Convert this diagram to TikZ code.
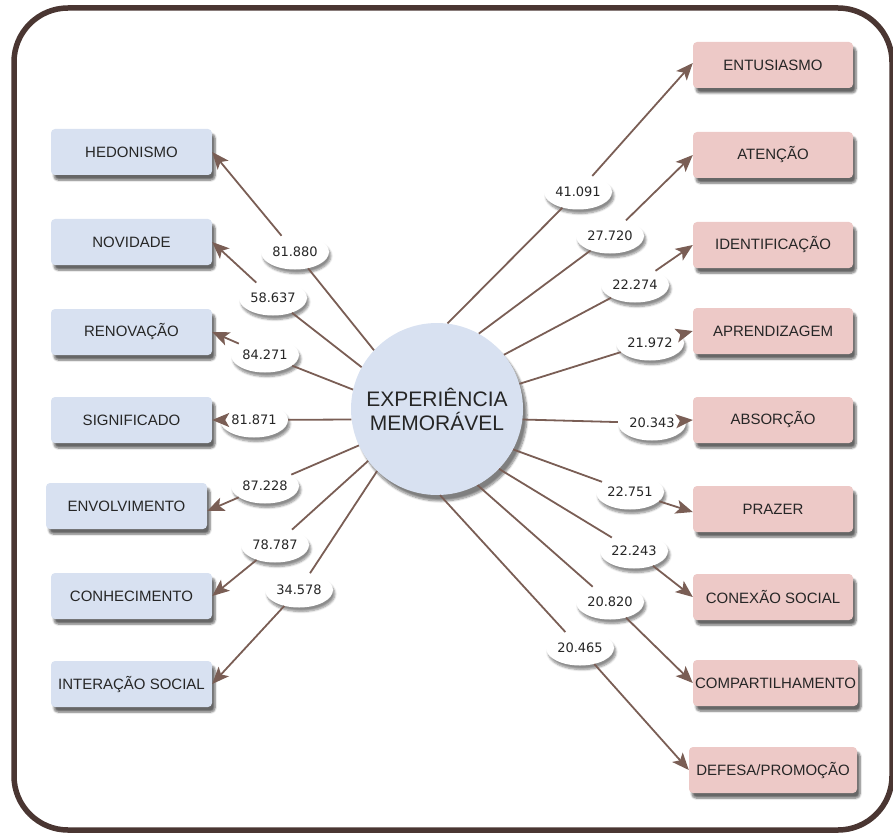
\documentclass[tikz,border=0pt]{standalone}
\usepackage{fontspec}
\setmainfont{Liberation Sans}
\newfontfamily\labfont{DejaVu Sans}
\usetikzlibrary{arrows.meta,shapes.geometric,shadows.blur}
\definecolor{bordc}{HTML}{4A3632}
\definecolor{arrc}{HTML}{7A5E55}
\definecolor{bluef}{HTML}{D8E1F1}
\definecolor{pinkf}{HTML}{EDC9C7}
\definecolor{txtc}{HTML}{262626}
\tikzset{
  shad/.style={blur shadow={shadow blur steps=6, shadow xshift=3pt, shadow yshift=-5pt, shadow opacity=60, shadow blur extra rounding=2pt}},
  lbox/.style={rectangle, rounded corners=4pt, fill=bluef, minimum width=161pt, minimum height=46pt, inner sep=0pt, text=txtc, font=\fontsize{15}{17}\selectfont, shad},
  rbox/.style={rectangle, rounded corners=4pt, fill=pinkf, minimum width=160pt, minimum height=46pt, inner sep=0pt, text=txtc, font=\fontsize{15}{17}\selectfont, shad},
  lab/.style={ellipse, fill=white, minimum width=68pt, minimum height=35pt, inner sep=0pt, text=txtc, font=\labfont\fontsize{13}{15}\selectfont, blur shadow={shadow blur steps=6, shadow xshift=2pt, shadow yshift=-4pt, shadow opacity=45}},
  conn/.style={draw=arrc, line width=1.8pt},
  arr/.style={conn, -{Stealth[length=17pt,width=14pt,inset=4pt]}},
}
\begin{document}
\begin{tikzpicture}[x=1pt,y=-1pt]
\useasboundingbox (0,0) rectangle (893,834);
\draw[bordc, line width=5.5pt, rounded corners=54pt] (14,8) rectangle (892,830);

% center
\node[circle, fill=bluef, minimum size=172pt, inner sep=0pt, text=txtc, align=center,
  font=\fontsize{21}{24}\selectfont,
  blur shadow={shadow blur steps=8, shadow xshift=4pt, shadow yshift=-6pt, shadow opacity=50}] (c) at (437,409) {EXPERIÊNCIA\\MEMORÁVEL};

% left boxes
\node[lbox] (hed) at (131.5,152) {HEDONISMO};
\node[lbox] (nov) at (131.5,242) {NOVIDADE};
\node[lbox] (ren) at (131.5,332) {RENOVAÇÃO};
\node[lbox] (sig) at (131.5,420) {SIGNIFICADO};
\node[lbox] (env) at (126.5,506) {ENVOLVIMENTO};
\node[lbox] (con) at (131.5,596) {CONHECIMENTO};
\node[lbox] (int) at (131.5,684) {INTERAÇÃO SOCIAL};

% right boxes
\node[rbox] (ent) at (773,65) {ENTUSIASMO};
\node[rbox] (ate) at (773,155) {ATENÇÃO};
\node[rbox] (ide) at (773,245) {IDENTIFICAÇÃO};
\node[rbox] (apr) at (773,331) {APRENDIZAGEM};
\node[rbox] (abs) at (773,420) {ABSORÇÃO};
\node[rbox] (pra) at (773,509) {PRAZER};
\node[rbox] (cxs) at (773,597) {CONEXÃO SOCIAL};
\node[rbox, minimum width=165pt] (cmp) at (775.5,683) {COMPARTILHAMENTO};
\node[rbox, minimum width=168pt] (def) at (773,770) {DEFESA/PROMOÇÃO};

% labels left
\node[lab] (l1) at (295,252) {81.880};
\node[lab] (l2) at (273,298) {58.637};
\node[lab] (l3) at (265,355) {84.271};
\node[lab] (l4) at (254,420) {81.871};
\node[lab] (l5) at (265,486) {87.228};
\node[lab] (l6) at (275,545) {78.787};
\node[lab] (l7) at (299,590) {34.578};

% labels right
\node[lab] (r1) at (578,192) {41.091};
\node[lab] (r2) at (610,236) {27.720};
\node[lab] (r3) at (635,285) {22.274};
\node[lab] (r4) at (650,343) {21.972};
\node[lab] (r5) at (652,423) {20.343};
\node[lab] (r6) at (630,492) {22.751};
\node[lab] (r7) at (634,551) {22.243};
\node[lab] (r8) at (610,602) {20.820};
\node[lab] (r9) at (580,648) {20.465};

% connectors left
\draw[conn] (c.137) -- (l1); \draw[arr] (l1) -- (hed.east);
\draw[conn] (c.151) -- (l2); \draw[arr] (l2) -- (nov.east);
\draw[conn] (c.167) -- (l3); \draw[arr] (l3) -- (ren.east);
\draw[conn] (c.187) -- (l4); \draw[arr] (l4) -- (sig.east);
\draw[conn] (c.205) -- (l5); \draw[arr] (l5) -- ([yshift=-5pt]env.east);
\draw[conn] (c.217) -- (l6); \draw[arr] (l6) -- (con.east);
\draw[conn] (c.226) -- (l7); \draw[arr] (l7) -- (int.east);

% connectors right
\draw[conn] (c.83) -- (r1); \draw[arr] (r1) -- ([yshift=2pt]ent.west);
\draw[conn] (c.61) -- (r2); \draw[arr] (r2) -- (ate.west);
\draw[conn] (c.39) -- (r3); \draw[arr] (r3) -- (ide.west);
\draw[conn] (c.17) -- (r4); \draw[arr] (r4) -- (apr.west);
\draw[conn] (c.-7) -- (r5); \draw[arr] (r5) -- (abs.west);
\draw[conn] (c.-28) -- (r6); \draw[arr] (r6) -- ([yshift=-3pt]pra.west);
\draw[conn] (c.-44) -- (r7); \draw[arr] (r7) -- (cxs.west);
\draw[conn] (c.-62) -- (r8); \draw[arr] (r8) -- (cmp.west);
\draw[conn] (c.-88) -- (r9); \draw[arr] (r9) -- (def.west);
\end{tikzpicture}
\end{document}
